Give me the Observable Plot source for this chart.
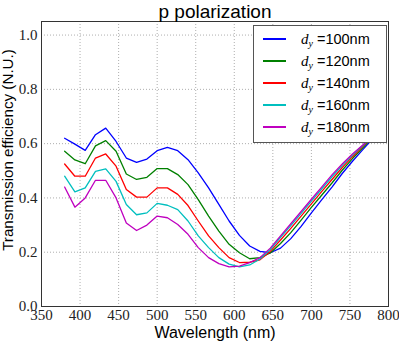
<!DOCTYPE html>
<html><head><meta charset="utf-8">
<script src="https://cdn.jsdelivr.net/npm/d3@7"></script>
<script src="https://cdn.jsdelivr.net/npm/@observablehq/plot@0.6"></script>
<style>
body{margin:0;background:#fff;}
#wrap{position:relative;width:399px;height:342px;}
#legend{position:absolute;left:253px;top:25px;width:134px;height:118px;border:1px solid #555;background:#fff;box-sizing:border-box;}
.entry{position:absolute;left:0;height:20px;display:flex;align-items:center;}
.sw{width:23px;height:0;border-top:2px solid;margin-left:9px;}
.lab{margin-left:15px;font-family:"Liberation Sans",Arial,sans-serif;font-size:14.5px;color:#000;white-space:nowrap;}
.d{font-family:"Liberation Serif",serif;font-style:italic;font-size:15px;}
.sub{font-family:"Liberation Serif",serif;font-style:italic;font-size:10px;position:relative;top:3px;margin-right:4px;}
</style></head>
<body><div id="wrap"><div id="legend"></div></div>
<script>
const title = "p polarization";
const xLabel = "Wavelength (nm)";
const yLabel = "Transmission efficiency (N.U.)";
const xTicks = [350, 400, 450, 500, 550, 600, 650, 700, 750, 800];
const yTicks = [0, 0.2, 0.4, 0.6, 0.8, 1.0];
const dyValues = [100, 120, 140, 160, 180];
const colors = ["#0000ff", "#008000", "#ff0000", "#00bfbf", "#bf00bf"];
const wavelength = [380, 393.3, 406.7, 420, 433.3, 446.7, 460, 473.3, 486.7, 500, 513.3, 526.7, 540, 553.3, 566.7, 580, 593.3, 606.7, 620, 633.3, 646.7, 660, 673.3, 686.7, 700, 713.3, 726.7, 740, 753.3, 766.7, 780];
const dy100 = [0.62, 0.598, 0.575, 0.633, 0.657, 0.608, 0.547, 0.531, 0.543, 0.574, 0.586, 0.574, 0.541, 0.492, 0.437, 0.376, 0.315, 0.262, 0.223, 0.203, 0.198, 0.215, 0.25, 0.295, 0.345, 0.393, 0.44, 0.49, 0.535, 0.578, 0.62];
const dy120 = [0.572, 0.54, 0.526, 0.592, 0.611, 0.572, 0.488, 0.468, 0.476, 0.508, 0.508, 0.486, 0.449, 0.394, 0.333, 0.278, 0.229, 0.198, 0.176, 0.18, 0.197, 0.232, 0.272, 0.318, 0.365, 0.41, 0.455, 0.502, 0.545, 0.585, 0.625];
const dy140 = [0.525, 0.48, 0.48, 0.547, 0.562, 0.517, 0.431, 0.403, 0.403, 0.437, 0.437, 0.413, 0.372, 0.315, 0.26, 0.217, 0.18, 0.162, 0.163, 0.172, 0.203, 0.245, 0.288, 0.333, 0.378, 0.423, 0.468, 0.512, 0.552, 0.59, 0.628];
const dy160 = [0.48, 0.422, 0.437, 0.498, 0.507, 0.461, 0.376, 0.338, 0.345, 0.38, 0.373, 0.357, 0.315, 0.26, 0.217, 0.18, 0.156, 0.146, 0.153, 0.175, 0.21, 0.255, 0.298, 0.343, 0.388, 0.433, 0.478, 0.52, 0.558, 0.593, 0.63];
const dy180 = [0.44, 0.366, 0.40, 0.465, 0.465, 0.40, 0.308, 0.28, 0.30, 0.333, 0.327, 0.302, 0.266, 0.217, 0.18, 0.158, 0.146, 0.149, 0.162, 0.18, 0.215, 0.26, 0.305, 0.35, 0.395, 0.44, 0.485, 0.525, 0.562, 0.595, 0.63];

const seriesValues = [dy100, dy120, dy140, dy160, dy180];
const seriesNames = dyValues.map(v => `dy=${v}nm`);
const data = [];
seriesValues.forEach((vals, i) => vals.forEach((v, j) => data.push({series: seriesNames[i], wavelength: wavelength[j], value: v})));

const serif = "'Liberation Serif', 'DejaVu Serif', serif";
const sans = "'Liberation Sans', Arial, sans-serif";

const chart = Plot.plot({
  width: 399, height: 342,
  marginLeft: 41, marginRight: 11, marginTop: 21, marginBottom: 36,
  style: {fontFamily: sans, background: "white", color: "#000"},
  x: {domain: [350, 800]},
  y: {domain: [0, 1.05]},
  color: {domain: seriesNames, range: colors},
  marks: [
    Plot.gridX(xTicks, {stroke: "#999", strokeOpacity: 1, strokeWidth: 0.8, strokeDasharray: "1,2"}),
    Plot.gridY(yTicks, {stroke: "#999", strokeOpacity: 1, strokeWidth: 0.8, strokeDasharray: "1,2"}),
    Plot.line(data, {x: "wavelength", y: "value", z: "series", stroke: "series", strokeWidth: 1.3}),
    Plot.frame({stroke: "#333", strokeWidth: 1}),
    Plot.axisX(xTicks, {tickSize: 0, tickPadding: 3, fontFamily: serif, fontSize: 15, fill: "#222", label: null, tickFormat: d => String(d)}),
    Plot.axisY(yTicks, {tickSize: 0, tickPadding: 4, fontFamily: serif, fontSize: 15, fill: "#222", label: null, tickFormat: d3.format(".1f")}),
    Plot.text([title], {text: d => d, frameAnchor: "top", dy: -10, fontSize: 19, lineAnchor: "middle"}),
    Plot.text([xLabel], {text: d => d, frameAnchor: "bottom", dy: 26, fontSize: 16, lineAnchor: "middle"}),
    Plot.text([yLabel], {text: d => d, frameAnchor: "left", textAnchor: "middle", rotate: -90, dx: -33.5, dy: -14, fontSize: 15.2, lineAnchor: "middle"})
  ]
});
document.getElementById("wrap").prepend(chart);

const legend = document.getElementById("legend");
dyValues.forEach((v, i) => {
  const e = document.createElement("div");
  e.className = "entry";
  e.style.top = (3 + i * 22.1) + "px";
  e.innerHTML = `<div class="sw" style="border-top-color:${colors[i]}"></div><div class="lab"><span class="d">d</span><span class="sub">y</span>=${v}nm</div>`;
  legend.appendChild(e);
});
</script>
</body></html>
